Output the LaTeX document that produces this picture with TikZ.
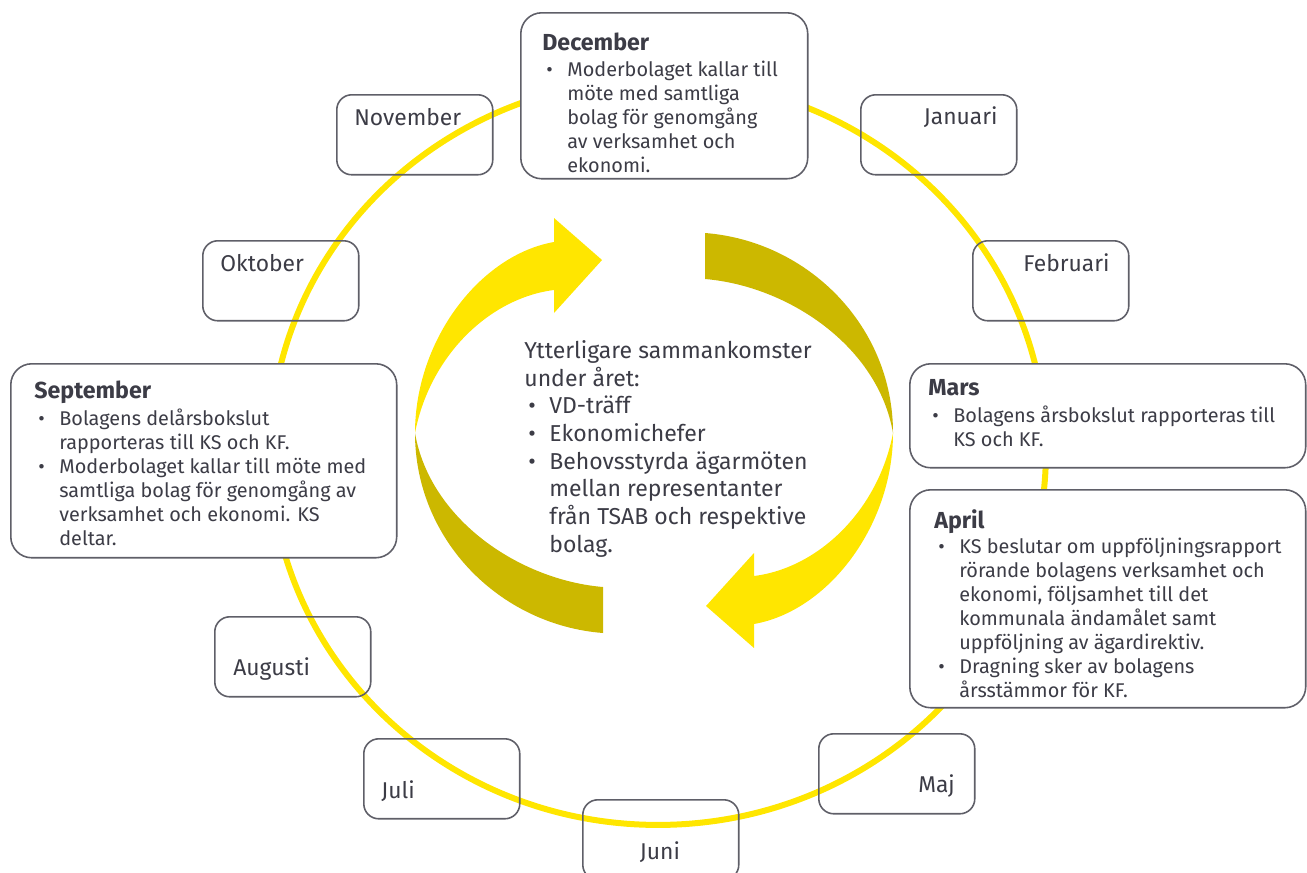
\documentclass[tikz,border=0pt]{standalone}
\usepackage{fontspec}
\setmainfont{Fira Sans}
\definecolor{eyyellow}{HTML}{FFE600}
\definecolor{eyolive}{HTML}{CCB800}
\definecolor{boxline}{HTML}{5F5F68}
\definecolor{txt}{HTML}{3C3C46}
\tikzstyle{monthbox} = [draw=boxline, line width=0.9pt, rounded corners=0.3cm, minimum width=3.12cm, minimum height=1.6cm, anchor=north west, inner sep=0pt]
\tikzstyle{bigbox} = [monthbox, fill=white, rounded corners=0.42cm]
\tikzstyle{monthlabel} = [text=txt, font=\fontsize{13}{15.8}\selectfont, inner sep=0pt]
\tikzstyle{boxtitle} = [text=txt, font=\fontsize{13.2}{15}\selectfont\bfseries, anchor=base west, inner sep=0pt]
\tikzstyle{boxtext} = [text=txt, font=\fontsize{11.3}{13.66}\selectfont, align=left, anchor=north west, inner sep=0pt]
\newcommand{\bul}{\hspace*{0.08cm}\makebox[0.42cm][l]{\textbullet}}
\newcommand{\ind}{\hspace*{0.5cm}}

\begin{document}
\begin{tikzpicture}[x=0.02cm, y=-0.02cm]
    \useasboundingbox (0,0) rectangle (1307,872);
    % year wheel
    \draw[eyyellow, line width=0.12cm] (658,452) ellipse [x radius=7.76cm, y radius=7.46cm];

    % months without text
    \node[monthbox] (nov) at (336,94) {};
    \node[monthbox] (jan) at (860,94) {};
    \node[monthbox] (okt) at (202,240) {};
    \node[monthbox] (feb) at (972,240) {};
    \node[monthbox] (aug) at (214,616) {};
    \node[monthbox] (jul) at (363,738) {};
    \node[monthbox] (maj) at (818,733) {};
    \node[monthbox] (jun) at (582,799) {};
    \node[monthlabel, anchor=base west] (novt) at (354,125) {November};
    \node[monthlabel, anchor=base east] (jant) at (998,124) {Januari};
    \node[monthlabel, anchor=base west] (oktt) at (220,271) {Oktober};
    \node[monthlabel, anchor=base east] (febt) at (1110,271) {Februari};
    \node[monthlabel, anchor=base west] (augt) at (233,675) {Augusti};
    \node[monthlabel, anchor=base west] (jult) at (381,798) {Juli};
    \node[monthlabel, anchor=base east] (majt) at (955,792) {Maj};
    \node[monthlabel, anchor=base] (junt) at (660,859) {Juni};

    % months with text
    \node[bigbox, minimum width=5.74cm, minimum height=3.32cm] (dec) at (520,12) {};
    \node[bigbox, minimum width=7.72cm, minimum height=3.88cm] (sep) at (10,363) {};
    \node[bigbox, minimum width=7.92cm, minimum height=2.08cm] (mar) at (909,363) {};
    \node[bigbox, minimum width=7.92cm, minimum height=4.36cm] (apr) at (909,489) {};

    \node[boxtitle] (dect) at (542,50) {December};
    \node[boxtext] (decb) at (542,61) {\bul Moderbolaget kallar till\\ \ind möte med samtliga\\ \ind bolag för genomgång\\ \ind av verksamhet och\\ \ind ekonomi.};
    \node[boxtitle] (sept) at (34,398) {September};
    \node[boxtext] (sepb) at (34,409) {\bul Bolagens delårsbokslut\\ \ind rapporteras till KS och KF.\\ \bul Moderbolaget kallar till möte med\\ \ind samtliga bolag för genomgång av\\ \ind verksamhet och ekonomi. KS\\ \ind deltar.};
    \node[boxtitle] (mart) at (928,395) {Mars};
    \node[boxtext] (marb) at (928,406) {\bul Bolagens årsbokslut rapporteras till\\ \ind KS och KF.};
    \node[boxtitle] (aprt) at (934,528) {April};
    \node[boxtext] (aprb) at (934,538) {\bul KS beslutar om uppföljningsrapport\\ \ind rörande bolagens verksamhet och\\ \ind ekonomi, följsamhet till det\\ \ind kommunala ändamålet samt\\ \ind uppföljning av ägardirektiv.\\ \bul Dragning sker av bolagens\\ \ind årsstämmor för KF.};

    % cycle arrows
    \foreach \ang in {0,180} {
        \begin{scope}[rotate around={\ang:(654,433)}]
            \fill[eyyellow] (415,433) .. controls (415,340) and (480,255) .. (554,242) -- (554,218) -- (602,260) -- (554,313) -- (554,290) .. controls (490,298) and (430,355) .. (415,433) -- cycle;
            \fill[eyolive] (415,433) .. controls (415,540) and (500,625) .. (603,633) -- (603,587) .. controls (520,580) and (430,520) .. (415,433) -- cycle;
        \end{scope}
    }
    \node[boxtext, font=\fontsize{13.1}{15.77}\selectfont] (mid) at (524,340) {Ytterligare sammankomster\\ under året:\\ \bul VD-träff\\ \bul Ekonomichefer\\ \bul Behovsstyrda ägarmöten\\ \ind mellan representanter\\ \ind från TSAB och respektive\\ \ind bolag.};
\end{tikzpicture}
\end{document}
